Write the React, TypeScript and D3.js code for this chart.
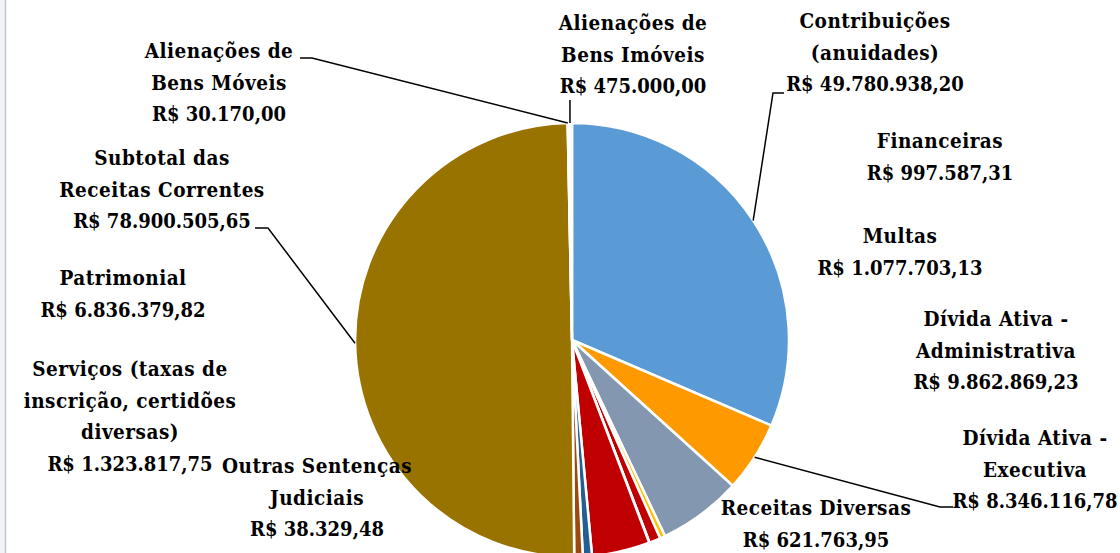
import React from "react";
import * as d3 from "d3";

// slices, in drawing order (clockwise from 12 o'clock)
const categories = [
  "Contribuições (anuidades)",
  "Dívida Ativa - Executiva",
  "Dívida Ativa - Administrativa",
  "Receitas Diversas",
  "Serviços (taxas de inscrição, certidões diversas)",
  "Outras Sentenças Judiciais",
  "Patrimonial",
  "Multas",
  "Financeiras",
  "Subtotal das Receitas Correntes",
  "Alienações de Bens Móveis",
  "Alienações de Bens Imóveis",
];

const values = [
  49780938.2, 8346116.78, 9862869.23, 621763.95, 1323817.75, 38329.48,
  6836379.82, 1077703.13, 997587.31, 78900505.65, 30170.0, 475000.0,
];

const colors = [
  "#5B9BD5", "#FF9900", "#8497B0", "#FFC000", "#C00000", "#7F6000",
  "#C00000", "#255E91", "#9E480E", "#997300", "#E6DCB8", "#FFFFFF",
];

// label text, split as in the original
const labelLines = [
  ["Contribuições", "(anuidades)"],
  ["Dívida Ativa -", "Executiva"],
  ["Dívida Ativa -", "Administrativa"],
  ["Receitas Diversas"],
  ["Serviços (taxas de", "inscrição, certidões", "diversas)"],
  ["Outras Sentenças", "Judiciais"],
  ["Patrimonial"],
  ["Multas"],
  ["Financeiras"],
  ["Subtotal das", "Receitas Correntes"],
  ["Alienações de", "Bens Móveis"],
  ["Alienações de", "Bens Imóveis"],
];

// label placement: center x, first baseline
const labelPos: [number, number][] = [
  [875, 28], [1035, 445], [996, 326], [816, 515], [130, 376], [317, 473],
  [123, 285], [900, 243], [940, 148], [162, 165], [219, 58], [633, 30],
];

// leader lines: from the slice edge through these points
const leaders: Record<number, [number, number][]> = {
  0: [[773, 93], [784, 93]],
  1: [[940, 507], [953, 507]],
  9: [[268, 228], [255, 228]],
  10: [[312, 58], [300, 58]],
  11: [[568, 100]],
};

const width = 1120;
const height = 553;
const cx = 572;
const cy = 340;
const radius = 217;
const lineH = 31.5;

const brl = d3.formatLocale({
  decimal: ",",
  thousands: ".",
  grouping: [3],
  currency: ["R$ ", ""],
});
const fmt = brl.format("$,.2f");

export default function App() {
  const data = categories.map((c, i) => ({ key: c, value: values[i], i }));
  const pie = d3
    .pie<any>()
    .sort(null)
    .value((d) => d.value);
  const arcs = pie(data);
  const arc = d3.arc<any>().innerRadius(0).outerRadius(radius);

  const edgePoint = (a: any): [number, number] => {
    const mid = (a.startAngle + a.endAngle) / 2;
    return [cx + radius * Math.sin(mid), cy - radius * Math.cos(mid)];
  };

  return (
    <svg
      width={width}
      height={height}
      style={{ position: "absolute", left: 0, top: 0, background: "#fff" }}
    >
      <rect x={0} y={0} width={5} height={height} fill="#F2F2F2" />
      <line x1={5.5} x2={5.5} y1={0} y2={height} stroke="#BCC6DA" strokeWidth={1.5} />

      <g transform={`translate(${cx},${cy})`}>
        {arcs.map((a) => (
          <path
            key={a.data.key}
            d={arc(a) as string}
            fill={colors[a.data.i]}
            stroke="#fff"
            strokeWidth={2.5}
            strokeLinejoin="round"
          />
        ))}
      </g>

      {arcs.map((a) => {
        const pts = leaders[a.data.i];
        if (!pts) return null;
        const start = edgePoint(a);
        let path: [number, number][] = [start, ...pts];
        if (a.data.i === 11) path = [start, [start[0], pts[0][1]]];
        return (
          <path
            key={"l" + a.data.i}
            d={d3.line()(path) as string}
            fill="none"
            stroke="#000"
            strokeWidth={1.5}
          />
        );
      })}

      <g
        fontFamily="'DejaVu Serif Condensed', 'DejaVu Serif', serif"
        fontWeight="bold"
        fontSize={20.5}
        fill="#000"
        textAnchor="middle"
        style={{ fontStretch: "condensed" }}
      >
        {labelLines.map((lines, i) => {
          const [x, y] = labelPos[i];
          const all = [...lines, fmt(values[i])];
          return (
            <text key={"t" + i} x={x} y={y}>
              {all.map((s, j) => (
                <tspan
                  key={j}
                  x={x}
                  y={y + j * lineH}
                  letterSpacing={j < lines.length ? 0.5 : 0}
                  fontSize={j < lines.length ? 20.5 : 20}
                >
                  {s}
                </tspan>
              ))}
            </text>
          );
        })}
      </g>
    </svg>
  );
}
